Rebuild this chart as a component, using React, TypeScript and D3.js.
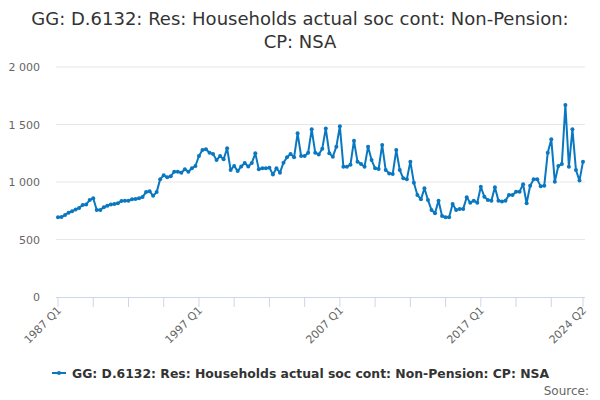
import React from "react";
import * as d3 from "d3";

const title1 = "GG: D.6132: Res: Households actual soc cont: Non-Pension:";
const title2 = "CP: NSA";
const seriesName = "GG: D.6132: Res: Households actual soc cont: Non-Pension: CP: NSA";
const startYear = 1987;
const values: number[] = [
  693, 695, 713, 733, 746, 760, 775, 800, 805, 843,
  858, 757, 757, 780, 794, 805, 809, 815, 835, 838,
  838, 849, 852, 858, 870, 912, 920, 880, 912, 1025,
  1058, 1041, 1050, 1090, 1090, 1081, 1110, 1090, 1119, 1139,
  1226, 1278, 1284, 1255, 1243, 1191, 1226, 1197, 1293, 1104,
  1140, 1095, 1135, 1165, 1135, 1165, 1249, 1110, 1119, 1119,
  1125, 1065, 1119, 1081, 1168, 1215, 1243, 1215, 1423, 1226,
  1226, 1255, 1458, 1255, 1240, 1290, 1465, 1249, 1220, 1307,
  1485, 1133, 1133, 1150, 1359, 1177, 1157, 1133, 1307, 1191,
  1119, 1113, 1322, 1104, 1075, 1070, 1278, 1104, 1032, 1023,
  1177, 994, 887, 849, 945, 843, 757, 728, 838, 704,
  693, 693, 809, 757, 766, 766, 867, 820, 838, 820,
  959, 872, 843, 838, 954, 838, 830, 838, 887, 887,
  916, 916, 980, 815, 968, 1023, 1023, 962, 968, 1255,
  1371, 1003, 1139, 1157, 1670, 1133, 1458, 1104, 1012, 1177,
];
const categories = values.map((_, i) => `${startYear + Math.floor(i / 4)} Q${(i % 4) + 1}`);
const yTicks = [0, 500, 1000, 1500, 2000];
const labelIdx = [0, 40, 80, 120, 149];

const W = 600, H = 400;
const FONT = "DejaVu Sans, sans-serif";
const COLOR = "#0a78c0";

export default function App() {
  const x = d3.scaleLinear().domain([0, values.length - 1]).range([58, 583]);
  const y = d3.scaleLinear().domain([0, 2000]).range([297, 67]);
  const line = d3.line<number>().x((_, i) => x(i)).y((d) => y(d));
  const tickIdx = d3.range(0, values.length, 10).concat([values.length - 1]);
  const fmt = (v: number) => d3.format(",")(v).replace(/,/g, " ");
  return (
    <svg width={W} height={H} style={{ position: "absolute", left: 0, top: 0, background: "#fff" }} fontFamily={FONT}>
      <text x={300} y={25} textAnchor="middle" fontSize={18} fill="#333">{title1}</text>
      <text x={300} y={48} textAnchor="middle" fontSize={18} fill="#333">{title2}</text>
      {yTicks.map((t) => (
        <g key={t}>
          {t > 0 && <line x1={56} x2={585} y1={y(t)} y2={y(t)} stroke="#e6e6e6" />}
          <text x={40} y={y(t) + 4} textAnchor="end" fontSize={11} fill="#666">{fmt(t)}</text>
        </g>
      ))}
      <line x1={56} x2={585} y1={y(0) + 0.5} y2={y(0) + 0.5} stroke="#ccd6eb" />
      {tickIdx.map((i) => (
        <line key={i} x1={x(i)} x2={x(i)} y1={y(0)} y2={y(0) + 10} stroke="#ccd6eb" />
      ))}
      {labelIdx.map((i) => (
        <text key={i} transform={`translate(${x(i) + 4},${y(0) + 14}) rotate(-45)`} textAnchor="end" fontSize={11} fill="#666">
          {categories[i]}
        </text>
      ))}
      <path d={line(values) || ""} fill="none" stroke={COLOR} strokeWidth={2} strokeLinejoin="round" />
      {values.map((v, i) => (
        <circle key={i} cx={x(i)} cy={y(v)} r={2} fill={COLOR} />
      ))}
      <g>
        <line x1={52} x2={66} y1={373} y2={373} stroke={COLOR} strokeWidth={2} />
        <circle cx={59} cy={373} r={2} fill={COLOR} />
        <text x={72} y={377.5} fontSize={12.4} fontWeight="bold" fill="#333">{seriesName}</text>
      </g>
      <text x={589} y={395} textAnchor="end" fontSize={12} fill="#666">Source:</text>
    </svg>
  );
}
